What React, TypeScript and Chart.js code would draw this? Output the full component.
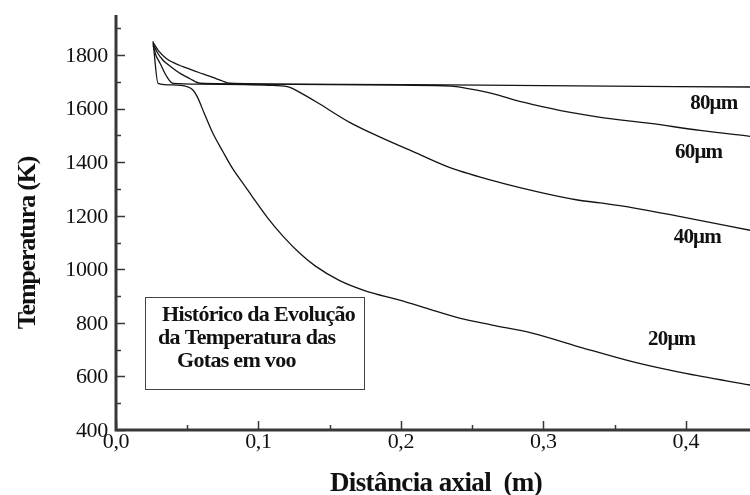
import React, { useEffect, useRef } from 'react';
import { Chart, registerables } from 'chart.js';

Chart.register(...registerables);

// Axis ticks
const xMajorTicks = [0, 0.1, 0.2, 0.3, 0.4];
const xTickLabels = ['0,0', '0,1', '0,2', '0,3', '0,4'];
const xMinorTicks = [0.05, 0.15, 0.25, 0.35];
const yMajorTicks = [400, 600, 800, 1000, 1200, 1400, 1600, 1800];
const yMinorTicks = [500, 700, 900, 1100, 1300, 1500, 1700, 1900];

// Droplet temperature histories: axial distance (m) vs temperature (K)
const dist80 = [0.026, 0.030, 0.036, 0.040, 0.047, 0.054, 0.061, 0.068, 0.074, 0.080, 0.12, 0.2, 0.3, 0.445];
const temp80 = [1848, 1815, 1785, 1773, 1757, 1743, 1730, 1717, 1705, 1695, 1692, 1690, 1686, 1681];

const dist60 = [0.026, 0.029, 0.033, 0.039, 0.045, 0.052, 0.059, 0.1, 0.2, 0.235, 0.246, 0.26, 0.269, 0.28, 0.30, 0.32, 0.34, 0.375, 0.41, 0.445];
const temp60 = [1842, 1810, 1781, 1755, 1732, 1712, 1695, 1692, 1688, 1684, 1676, 1662, 1650, 1632, 1607, 1585, 1568, 1545, 1519, 1497];

const dist40 = [0.026, 0.028, 0.031, 0.036, 0.040, 0.06, 0.09, 0.11, 0.122, 0.129, 0.141, 0.164, 0.187, 0.211, 0.234, 0.269, 0.30, 0.323, 0.34, 0.363, 0.398, 0.445];
const temp40 = [1836, 1800, 1769, 1717, 1695, 1692, 1690, 1687, 1680, 1661, 1624, 1549, 1490, 1434, 1381, 1325, 1285, 1260, 1248, 1230, 1195, 1146];

const dist20 = [0.026, 0.0295, 0.040, 0.050, 0.054, 0.057, 0.062, 0.068, 0.075, 0.082, 0.090, 0.096, 0.106, 0.117, 0.129, 0.140, 0.157, 0.175, 0.199, 0.222, 0.241, 0.264, 0.292, 0.328, 0.363, 0.398, 0.445];
const temp20 = [1852, 1695, 1689, 1682, 1670, 1645, 1582, 1508, 1440, 1375, 1315, 1269, 1195, 1125, 1060, 1012, 958, 920, 885, 848, 818, 792, 762, 706, 654, 613, 568];

const seriesNames = ['80μm', '60μm', '40μm', '20μm'];
const seriesDist = [dist80, dist60, dist40, dist20];
const seriesTemp = [temp80, temp60, temp40, temp20];

// Where each diameter tag sits, in axis units
const tagDist = [0.4196, 0.409, 0.408, 0.390];
const tagTemp = [1621, 1435, 1117, 736];

const boxLines = ['Histórico da Evolução', 'da Temperatura das', 'Gotas em voo'];

const SERIF = "'Liberation Serif', 'Times New Roman', serif";

const axesPlugin = {
  id: 'paperAxes',
  afterDraw(chart: any) {
    const ctx = chart.ctx as CanvasRenderingContext2D & { letterSpacing?: string };
    const xs = chart.scales.x;
    const ys = chart.scales.y;
    const area = chart.chartArea;
    ctx.save();

    // axis lines
    ctx.strokeStyle = '#383838';
    ctx.lineWidth = 3;
    ctx.beginPath();
    ctx.moveTo(area.left, area.top);
    ctx.lineTo(area.left, area.bottom);
    ctx.lineTo(area.right + 2, area.bottom);
    ctx.stroke();

    // inward ticks
    ctx.lineWidth = 1.5;
    ctx.beginPath();
    xMajorTicks.forEach((v) => {
      const px = Math.round(xs.getPixelForValue(v)) + 0.5;
      ctx.moveTo(px, area.bottom);
      ctx.lineTo(px, area.bottom - 9);
    });
    xMinorTicks.forEach((v) => {
      const px = Math.round(xs.getPixelForValue(v)) + 0.5;
      ctx.moveTo(px, area.bottom);
      ctx.lineTo(px, area.bottom - 5);
    });
    yMajorTicks.forEach((v) => {
      const py = Math.round(ys.getPixelForValue(v)) + 0.5;
      ctx.moveTo(area.left, py);
      ctx.lineTo(area.left + 9, py);
    });
    yMinorTicks.forEach((v) => {
      const py = Math.round(ys.getPixelForValue(v)) + 0.5;
      ctx.moveTo(area.left, py);
      ctx.lineTo(area.left + 5, py);
    });
    ctx.stroke();

    // tick labels
    ctx.fillStyle = '#111';
    ctx.font = `22px ${SERIF}`;
    ctx.letterSpacing = '-0.3px';
    ctx.textAlign = 'right';
    ctx.textBaseline = 'middle';
    yMajorTicks.forEach((v) => {
      ctx.fillText(String(v), area.left - 8, ys.getPixelForValue(v) + 1);
    });
    ctx.textAlign = 'center';
    ctx.textBaseline = 'alphabetic';
    xMajorTicks.forEach((v, i) => {
      ctx.fillText(xTickLabels[i], xs.getPixelForValue(v), area.bottom + 18);
    });

    // axis titles
    ctx.font = `bold 27px ${SERIF}`;
    ctx.letterSpacing = '-0.6px';
    ctx.textAlign = 'center';
    ctx.fillText('Distância axial  (m)', 436, area.bottom + 61);
    ctx.save();
    ctx.translate(35, 243);
    ctx.rotate(-Math.PI / 2);
    ctx.font = `bold 26px ${SERIF}`;
    ctx.letterSpacing = '-1.2px';
    ctx.fillText('Temperatura (K)', 0, 0);
    ctx.restore();

    // diameter tags
    ctx.font = `bold 21px ${SERIF}`;
    ctx.letterSpacing = '-0.8px';
    ctx.textBaseline = 'middle';
    seriesNames.forEach((name, i) => {
      ctx.fillText(name, xs.getPixelForValue(tagDist[i]), ys.getPixelForValue(tagTemp[i]));
    });

    // caption box
    const bx0 = xs.getPixelForValue(0.0204);
    const bx1 = xs.getPixelForValue(0.1741);
    const by0 = ys.getPixelForValue(898);
    const by1 = ys.getPixelForValue(555);
    ctx.lineWidth = 1;
    ctx.strokeStyle = '#444';
    ctx.strokeRect(Math.round(bx0) + 0.5, Math.round(by0) + 0.5, Math.round(bx1 - bx0), Math.round(by1 - by0));
    ctx.font = `bold 22px ${SERIF}`;
    ctx.letterSpacing = '-0.7px';
    ctx.textAlign = 'left';
    ctx.textBaseline = 'alphabetic';
    const indents = [17, 13, 32];
    boxLines.forEach((line, i) => {
      ctx.fillText(line, bx0 + indents[i], by0 + 24 + i * 23);
    });
    ctx.letterSpacing = '0px';
    ctx.restore();
  },
};

export default function App() {
  const canvasRef = useRef<HTMLCanvasElement | null>(null);

  useEffect(() => {
    const canvas = canvasRef.current;
    if (!canvas) return;
    const datasets = seriesNames.map((name, i) => ({
      label: name,
      data: seriesDist[i].map((d, j) => ({ x: d, y: seriesTemp[i][j] })),
      borderColor: '#141414',
      borderWidth: 1.3,
      pointRadius: 0,
      fill: false,
      cubicInterpolationMode: 'monotone' as const,
    }));
    const chart = new Chart(canvas, {
      type: 'line',
      data: { datasets },
      options: {
        animation: false,
        responsive: false,
        maintainAspectRatio: false,
        devicePixelRatio: 1,
        layout: { padding: { left: 116, right: 0, top: 15, bottom: 65 } },
        plugins: { legend: { display: false }, tooltip: { enabled: false } },
        scales: {
          x: { type: 'linear', min: 0, max: 0.445, display: false },
          y: { type: 'linear', min: 400, max: 1950, display: false },
        },
      },
      plugins: [axesPlugin],
    });
    return () => chart.destroy();
  }, []);

  return (
    <div style={{ position: 'absolute', left: 0, top: 0, width: 750, height: 495, background: '#fff' }}>
      <canvas ref={canvasRef} width={750} height={495} style={{ display: 'block' }} />
    </div>
  );
}
